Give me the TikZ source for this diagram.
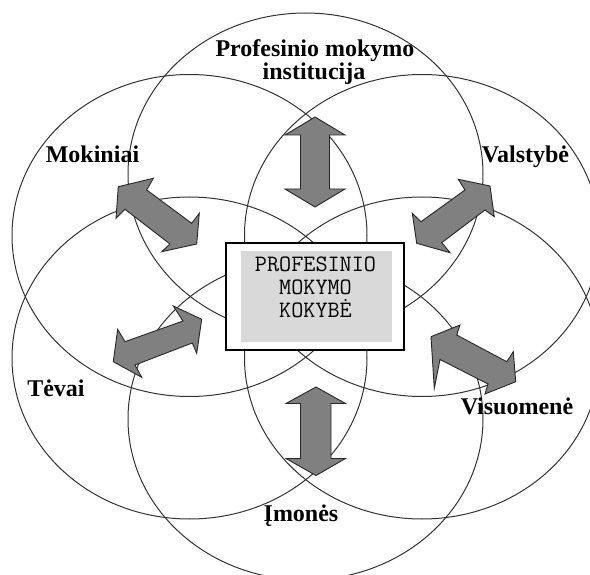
\documentclass[tikz,border=0pt]{standalone}
\usepackage{fontspec}
\newfontfamily\labelfont{Liberation Serif}
\usetikzlibrary{shapes.geometric}
\definecolor{boxgray}{RGB}{217,217,217}
\definecolor{arrowgray}{RGB}{128,128,128}
\definecolor{ringline}{RGB}{50,50,50}
\tikzset{
  ring/.style={ellipse, draw=ringline, line width=1pt, minimum width=355pt, minimum height=322pt, inner sep=0pt},
  lab/.style={font=\labelfont\bfseries\fontsize{24}{26}\selectfont, inner sep=0pt, anchor=base},
  blockarrow/.style={draw=black!85, fill=arrowgray, line width=0.9pt, line join=miter},
}
\begin{document}
\begin{tikzpicture}[x=1pt,y=-1pt]
\useasboundingbox (0,0) rectangle (590,575);
\clip (0,0) rectangle (590,575);
% six overlapping rings
\node[ring] (cInst) at (305.5,174) {};
\node[ring] (cMok)  at (189.5,235.5) {};
\node[ring] (cVal)  at (422,235.5) {};
\node[ring] (cTev)  at (189.5,358) {};
\node[ring] (cVis)  at (422,358) {};
\node[ring] (cImo)  at (305.5,419) {};
% centre box
\node[draw=black, fill=white, line width=1.3pt, minimum width=178pt, minimum height=107pt, inner sep=0pt] (box) at (315,296.5) {};
\node[fill=boxgray, minimum width=151pt, minimum height=91pt, inner sep=0pt] (inner) at (316.5,296.5) {};
\node[anchor=north, align=center, inner sep=0pt, font=\ttfamily\fontsize{23.5}{23}\selectfont] (quality) at (315.5,256.5) {PROFESINIO\\MOKYMO\\KOKYBĖ};
% labels
\node[lab] (tInst1) at (315,56.5) {Profesinio mokymo};
\node[lab] (tInst2) at (314,80) {institucija};
\node[lab] (tMok) at (92.5,162.5) {Mokiniai};
\node[lab] (tVal) at (525.5,162.5) {Valstybė};
\node[lab] (tTev) at (56,396) {Tėvai};
\node[lab] (tVis) at (517,414) {Visuomenė};
\node[lab] (tImo) at (301,521) {Įmonės};
% double block arrows
\draw[blockarrow] (315,117) -- (345,135) -- (329.5,135) -- (329.5,189) -- (345,189) -- (315,207) -- (285,189) -- (300.5,189) -- (300.5,135) -- (285,135) -- cycle;
\draw[blockarrow] (316,387) -- (345.5,403.5) -- (331,403.5) -- (331,458.5) -- (345.5,458.5) -- (316,475.5) -- (286,458.5) -- (300.5,458.5) -- (300.5,403.5) -- (286,403.5) -- cycle;
\draw[blockarrow] (118.3,186.7) -- (153.3,178.3) -- (146.7,190) -- (191.7,223.3) -- (199.3,213.3) -- (196.7,244) -- (161.7,251.7) -- (170,244) -- (125,209.3) -- (116,218.3) -- cycle;
\draw[blockarrow] (490,186) -- (494.3,216.7) -- (485,210) -- (441.7,242.7) -- (450,252.7) -- (416.7,243.3) -- (412.3,213.3) -- (421,221.7) -- (465,190) -- (458.3,179.3) -- cycle;
\draw[blockarrow] (113.3,361.7) -- (117.7,329.3) -- (125,341.7) -- (183,321) -- (173.3,306) -- (201.7,319.3) -- (196.7,353.3) -- (192.3,343) -- (135,365) -- (141.7,377.3) -- cycle;
\draw[blockarrow] (431,336.7) -- (460,325) -- (456.7,335) -- (506.7,361.7) -- (513.3,351.7) -- (515.7,381.7) -- (485,394) -- (488,384) -- (440,359.5) -- (434.3,388.3) -- cycle;
\end{tikzpicture}
\end{document}
